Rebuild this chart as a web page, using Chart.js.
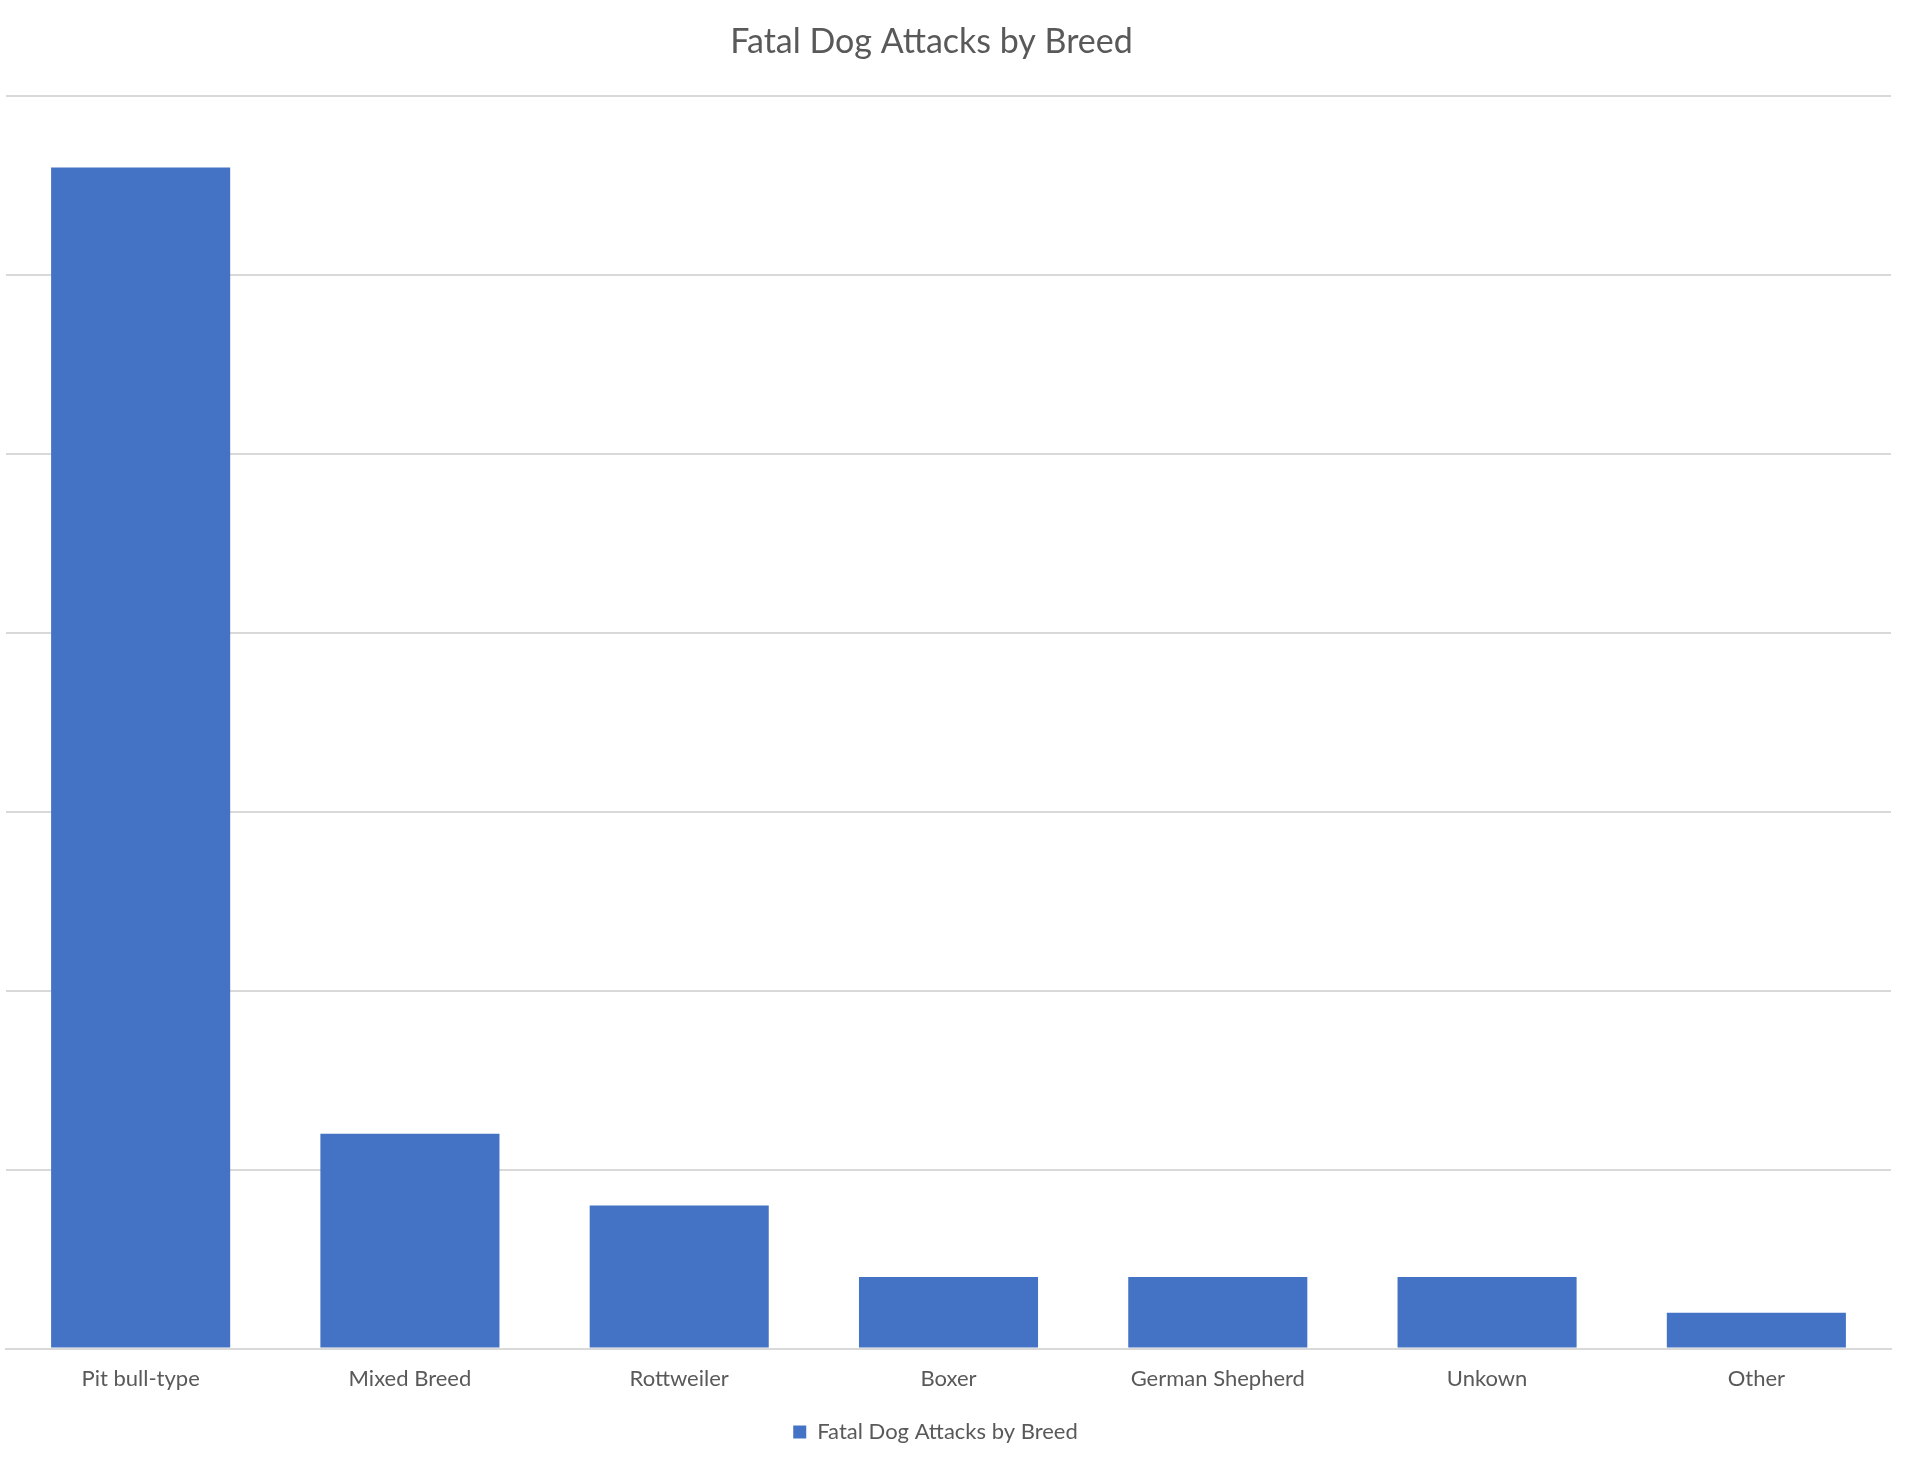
<!DOCTYPE html>
<html>
<head>
<meta charset="utf-8">
<title>Fatal Dog Attacks by Breed</title>
<script src="https://cdn.jsdelivr.net/npm/chart.js@4.4.1/dist/chart.umd.min.js"></script>
<style>
  html, body { margin: 0; padding: 0; background: #ffffff; }
  #chart { display: block; }
</style>
</head>
<body>
<canvas id="chart" width="1920" height="1470"></canvas>
<script>
// data (share of attacks, %)
const breeds = ['Pit bull-type', 'Mixed Breed', 'Rottweiler', 'Boxer', 'German Shepherd', 'Unkown', 'Other'];
const attacks = [66, 12, 8, 4, 4, 4, 2];
const seriesName = 'Fatal Dog Attacks by Breed';
const chartTitle = 'Fatal Dog Attacks by Breed';

const textColor = '#595959';
const gridColor = '#d9d9d9';
const barColor = '#4472c4';
const fontFamily = 'Lato, "Open Sans", sans-serif';

// the original's title and legend sit a bit left of the plot centre
const nudgeHeaders = {
  id: 'nudgeHeaders',
  afterLayout(chart) {
    if (chart.titleBlock) {
      chart.titleBlock.left -= 17;
      chart.titleBlock.right -= 17;
    }
    if (chart.legend) {
      chart.legend.left -= 13;
      chart.legend.right -= 13;
    }
  }
};

const ctx = document.getElementById('chart').getContext('2d');
const chart = new Chart(ctx, {
  type: 'bar',
  data: {
    labels: breeds,
    datasets: [{
      label: seriesName,
      data: attacks,
      backgroundColor: barColor,
      borderWidth: 0,
      categoryPercentage: 1.0,
      barPercentage: 0.665
    }]
  },
  options: {
    responsive: false,
    animation: false,
    devicePixelRatio: 1,
    layout: {
      padding: { left: 6, right: 29, top: 0, bottom: 17 }
    },
    plugins: {
      title: {
        display: true,
        text: chartTitle,
        color: textColor,
        font: { family: fontFamily, size: 34, weight: 'normal' },
        padding: { top: 22, bottom: 33 }
      },
      legend: {
        display: true,
        position: 'bottom',
        labels: {
          color: textColor,
          font: { family: fontFamily, size: 22 },
          boxWidth: 13,
          boxHeight: 13,
          padding: 20
        }
      },
      tooltip: { enabled: false }
    },
    scales: {
      x: {
        grid: { display: false },
        border: { display: true, color: gridColor, width: 2 },
        ticks: {
          color: textColor,
          font: { family: fontFamily, size: 22 },
          padding: 9,
          maxRotation: 0,
          autoSkip: false
        }
      },
      y: {
        min: 0,
        max: 70,
        ticks: { display: false, stepSize: 10 },
        grid: { color: gridColor, lineWidth: 2, drawTicks: false },
        border: { display: false }
      }
    }
  },
  plugins: [nudgeHeaders]
});
</script>
</body>
</html>
